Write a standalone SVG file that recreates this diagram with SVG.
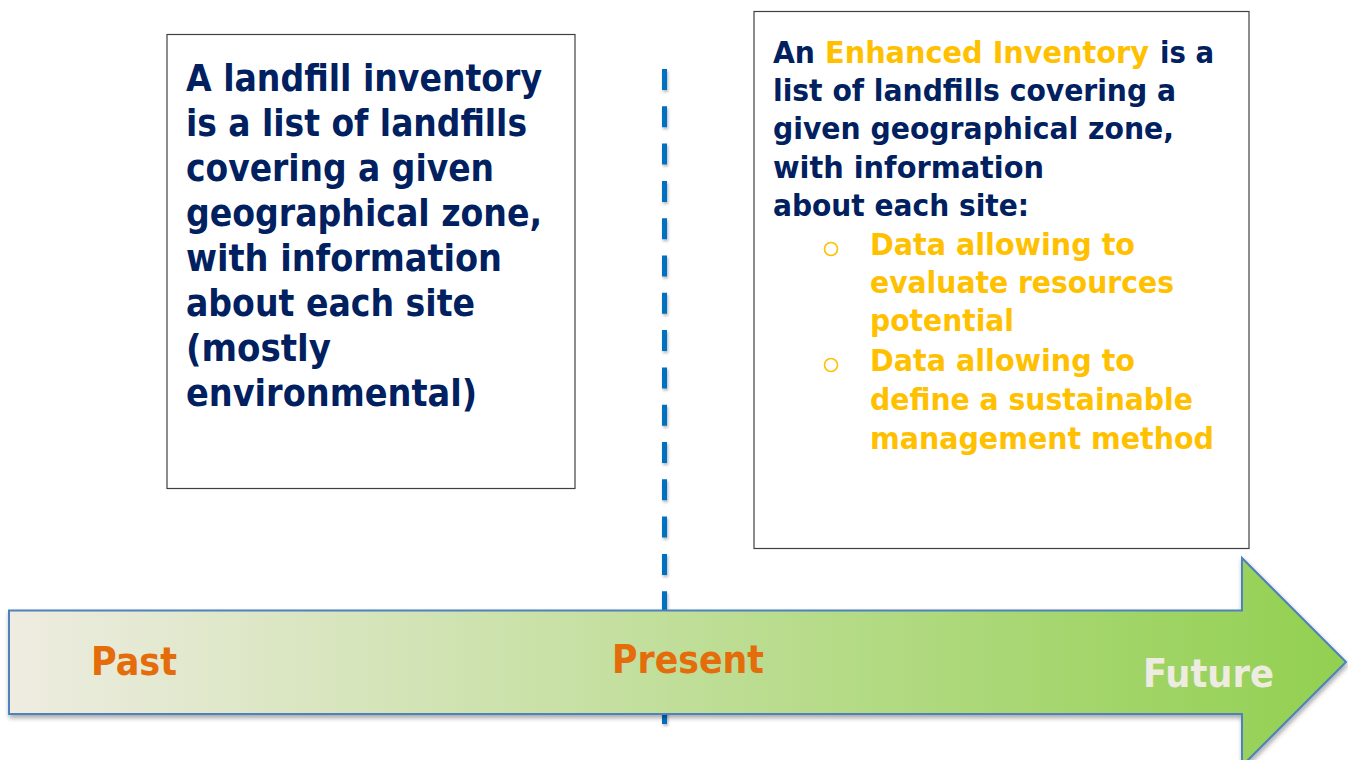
<svg xmlns="http://www.w3.org/2000/svg" width="1348" height="760" viewBox="0 0 1348 760">
  <defs>
    <linearGradient id="arrowGrad" x1="9" y1="0" x2="1346" y2="0" gradientUnits="userSpaceOnUse">
      <stop offset="0" stop-color="#EEECE1"/>
      <stop offset="1" stop-color="#92D050"/>
    </linearGradient>
    <filter id="shadow" x="-5%" y="-20%" width="110%" height="150%">
      <feGaussianBlur in="SourceAlpha" stdDeviation="2.5"/>
      <feOffset dx="1" dy="3" result="b"/>
      <feComponentTransfer><feFuncA type="linear" slope="0.35"/></feComponentTransfer>
      <feMerge><feMergeNode/><feMergeNode in="SourceGraphic"/></feMerge>
    </filter>
    <filter id="lineShadow" filterUnits="userSpaceOnUse" x="650" y="55" width="30" height="690">
      <feGaussianBlur in="SourceAlpha" stdDeviation="1.5"/>
      <feOffset dx="1" dy="2" result="b"/>
      <feComponentTransfer><feFuncA type="linear" slope="0.3"/></feComponentTransfer>
      <feMerge><feMergeNode/><feMergeNode in="SourceGraphic"/></feMerge>
    </filter>
    <style>
      .box { fill: #FFFFFF; stroke: #404040; stroke-width: 1.2; }
      .t { font-family: "DejaVu Sans Condensed", "DejaVu Sans", Verdana, sans-serif; font-weight: bold; }
      .navy { fill: #002060; }
      .gold { fill: #FFC000; }
      .big { font-size: 38px; }
      .mid { font-size: 30.5px; }
      .lab { font-size: 39px; }
      .orange { fill: #E46C0A; }
      .light { fill: #EEECE1; }
      .bul { fill: none; stroke: #FFC000; stroke-width: 1.6; }
    </style>
  </defs>

  <g id="present-divider" filter="url(#lineShadow)">
    <line x1="664.5" y1="69" x2="664.5" y2="725" stroke="#0070C0" stroke-width="5" stroke-dasharray="21 16.3"/>
  </g>

  <g id="timeline-arrow">
    <path d="M9,610.5 L1242,610.5 L1242,558 L1346,662 L1242,766 L1242,714 L9,714 Z" fill="url(#arrowGrad)" stroke="#4F81BD" stroke-width="2" filter="url(#shadow)"/>
    <text class="t lab orange" x="91" y="675" textLength="86" lengthAdjust="spacingAndGlyphs">Past</text>
    <text class="t lab orange" x="612" y="673" textLength="152" lengthAdjust="spacingAndGlyphs">Present</text>
    <text class="t lab light" x="1143" y="687" textLength="131" lengthAdjust="spacingAndGlyphs">Future</text>
  </g>

  <g id="box-left">
    <rect class="box" x="167" y="34.5" width="408" height="454"/>
    <g class="t big navy">
      <text x="186" y="91" textLength="356" lengthAdjust="spacingAndGlyphs">A landfill inventory</text>
      <text x="186" y="136" textLength="341" lengthAdjust="spacingAndGlyphs">is a list of landfills</text>
      <text x="186" y="181" textLength="308" lengthAdjust="spacingAndGlyphs">covering a given</text>
      <text x="186" y="226" textLength="356" lengthAdjust="spacingAndGlyphs">geographical zone,</text>
      <text x="186" y="271" textLength="316" lengthAdjust="spacingAndGlyphs">with information</text>
      <text x="186" y="316" textLength="289" lengthAdjust="spacingAndGlyphs">about each site</text>
      <text x="186" y="361" textLength="145" lengthAdjust="spacingAndGlyphs">(mostly</text>
      <text x="186" y="406" textLength="291" lengthAdjust="spacingAndGlyphs">environmental)</text>
    </g>
  </g>

  <g id="box-right">
    <rect class="box" x="754" y="11.5" width="495" height="537"/>
    <g class="t mid">
      <text class="navy" x="773" y="63" textLength="42" lengthAdjust="spacingAndGlyphs">An</text>
      <text class="gold" x="825" y="63" textLength="324" lengthAdjust="spacingAndGlyphs">Enhanced Inventory</text>
      <text class="navy" x="1160" y="63" textLength="54" lengthAdjust="spacingAndGlyphs">is a</text>
      <text class="navy" x="773" y="101" textLength="403" lengthAdjust="spacingAndGlyphs">list of landfills covering a</text>
      <text class="navy" x="773" y="139" textLength="401" lengthAdjust="spacingAndGlyphs">given geographical zone,</text>
      <text class="navy" x="773" y="178" textLength="271" lengthAdjust="spacingAndGlyphs">with information</text>
      <text class="navy" x="773" y="216" textLength="256" lengthAdjust="spacingAndGlyphs">about each site:</text>
      <text class="gold" x="870" y="255" textLength="265" lengthAdjust="spacingAndGlyphs">Data allowing to</text>
      <text class="gold" x="870" y="293" textLength="304" lengthAdjust="spacingAndGlyphs">evaluate resources</text>
      <text class="gold" x="870" y="331" textLength="144" lengthAdjust="spacingAndGlyphs">potential</text>
      <text class="gold" x="870" y="371" textLength="265" lengthAdjust="spacingAndGlyphs">Data allowing to</text>
      <text class="gold" x="870" y="410" textLength="323" lengthAdjust="spacingAndGlyphs">define a sustainable</text>
      <text class="gold" x="870" y="449" textLength="344" lengthAdjust="spacingAndGlyphs">management method</text>
    </g>
    <circle class="bul" cx="831" cy="249" r="6.5"/>
    <circle class="bul" cx="831" cy="365" r="6.5"/>
  </g>
</svg>
